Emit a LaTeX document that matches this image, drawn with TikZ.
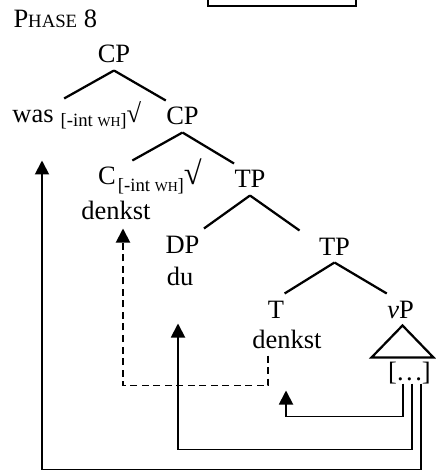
\documentclass[tikz,border=0pt]{standalone}
\usepackage{fontspec}
\setmainfont{Liberation Serif}
\usetikzlibrary{arrows.meta,calc}

% feature subscript, lowered by #1
\newcommand{\intwh}[1]{\raisebox{#1}{\fontsize{7.5}{9}\selectfont[-int {\fontsize{5.5}{6}\selectfont WH}]}}

\tikzset{
  lbl/.style={font=\fontsize{10.6}{12}\selectfont, inner xsep=0pt, inner ysep=2.8pt,
    text height=6.8pt, text depth=0pt, anchor=base},
  branch/.style={line width=0.9pt},
  move/.style={line width=0.75pt, -{Triangle[length=5.6pt,width=5.6pt]}},
  copymove/.style={move, dash pattern=on 2.8pt off 1.8pt},
}

\begin{document}
\begin{tikzpicture}[x=0.4pt, y=-0.4pt]
\useasboundingbox (0,0) rectangle (435,471);

% Bottom of the box above
\draw[line width=0.8pt] (208,-3) -- (208,6) -- (356,6) -- (356,-3);

% Title
\node[lbl, anchor=base west] (phase) at (13,28) {P{\fontsize{7.5}{9}\selectfont HASE} 8};

% Tree labels
\node[lbl] (cpA) at (114,63) {CP};
\node[lbl] (was) at (33,123) {was};
\node[lbl, anchor=base west] (wasf) at ($(was.base east)+(6,0)$) {\intwh{-1.5pt}√};
\node[lbl] (cpB) at (182.5,125) {CP};
\node[lbl] (cC) at (107,185) {C};
\node[lbl, anchor=base west] (cCf) at ($(cC.base east)+(1,0)$) {\intwh{-2.6pt}{\fontsize{13}{14}\selectfont √}};
\node[lbl] (denkA) at (116,220) {denkst};
\node[lbl] (tpA) at (250,188) {TP};
\node[lbl] (dp) at (182.5,253) {DP};
\node[lbl] (du) at (180,285) {du};
\node[lbl] (tpB) at (334.5,255) {TP};
\node[lbl] (t) at (276,318) {T};
\node[lbl] (denkB) at (287,348) {denkst};
\node[lbl] (vp) at (400.5,318) {\textit{v}P};
\node[lbl] (dots) at (409.5,380) {[.\kern1pt.\kern1pt.]};

% Branches
\draw[branch] (cpA.south) -- ($(was.north east)+(10,0)$);
\draw[branch] (cpA.south) -- (cpB.north west);
\draw[branch] (cpB.south) -- ($(cC.north east)+(16,0)$);
\draw[branch] (cpB.south) -- (tpA.north west);
\draw[branch] (tpA.south) -- ($(dp.north east)+(4,0)$);
\draw[branch] (tpA.south) -- ($(tpB.north west)+(-19,0)$);
\draw[branch] (tpB.south) -- (t.north east);
\draw[branch] (tpB.south) -- (vp.north west);
\draw[branch] ($(vp.south)+(2,0)$) -- ++(-31,32) -- ++(62,0) -- cycle;

% Movement arrows
\draw[copymove] ($(denkB.south)+(-19,0)$) -- ++(0,30) -| ($(denkA.south)+(7,1)$);
\draw[move] ($(dots.south)+(-6.5,-4)$) -- ++(0,33) -| ($(denkB.south)+(-1,35)$);
\draw[move] ($(dots.south)+(2.5,-4)$) -- ++(0,66) -| ($(du.south)+(-2,31)$);
\draw[move] ($(dots.south)+(11.5,-4)$) -- ++(0,86) -| ($(was.south)+(9,30)$);

\end{tikzpicture}
\end{document}
